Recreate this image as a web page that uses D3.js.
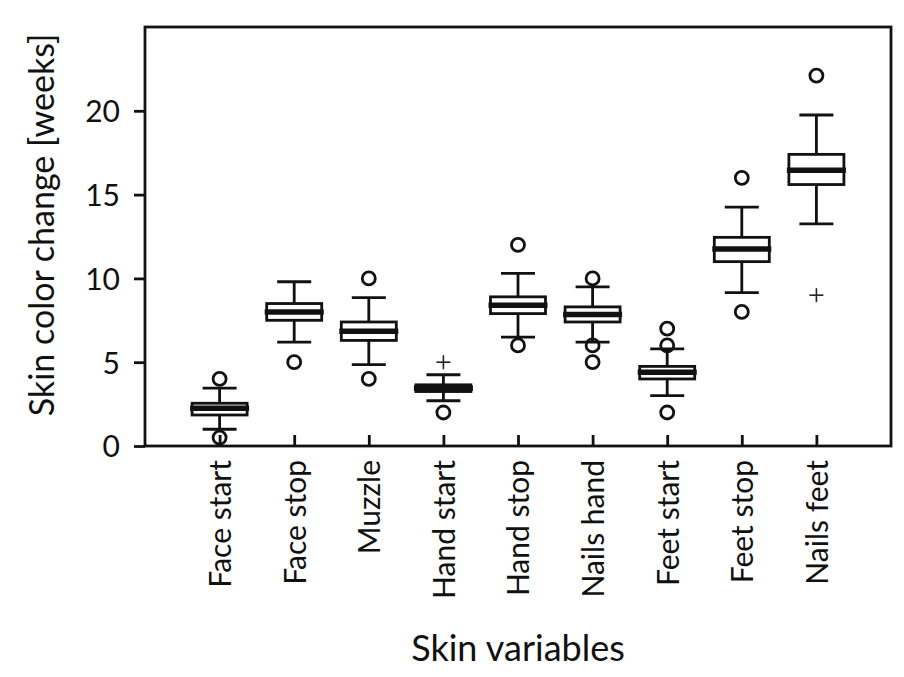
<!DOCTYPE html>
<html>
<head>
<meta charset="utf-8">
<script src="https://cdn.jsdelivr.net/npm/d3@7"></script>
<style>
    body { margin: 0; background: #fff; }
    svg text { font-family: Lato, "Open Sans", sans-serif; fill: #111; }
</style>
</head>
<body>
<script>
"use strict";

const categories = ["Face start", "Face stop", "Muzzle", "Hand start", "Hand stop",
                    "Nails hand", "Feet start", "Feet stop", "Nails feet"];
const whiskerLow  = [1.0, 6.2, 4.85, 2.7, 6.5, 6.2, 3.0, 9.15, 13.25];
const quartile1   = [1.85, 7.5, 6.3, 3.25, 7.9, 7.4, 4.0, 11.0, 15.6];
const medians     = [2.25, 8.0, 6.85, 3.45, 8.4, 7.85, 4.4, 11.75, 16.45];
const quartile3   = [2.55, 8.5, 7.4, 3.65, 8.9, 8.3, 4.75, 12.45, 17.4];
const whiskerHigh = [3.45, 9.8, 8.85, 4.25, 10.3, 9.5, 5.8, 14.25, 19.75];
const outliers    = [[4.0, 0.5], [5], [10, 4], [2], [12, 6], [10, 6, 5], [7, 6, 2], [16, 8], [22.1]];
const extremes    = [[], [], [], [5], [], [], [], [], [9]];
const yTicks = [0, 5, 10, 15, 20];

const measurements = {
    width: 904,
    height: 677,
    left: 145,
    right: 891,
    top: 27,
    bottom: 446
};
const lineW = 2.8;

const svg = d3.select("body").append("svg")
    .attr("width", measurements.width)
    .attr("height", measurements.height);

const x = d3.scalePoint()
    .domain(categories)
    .range([measurements.left, measurements.right])
    .padding(1);

const y = d3.scaleLinear()
    .domain([0, 25])
    .range([measurements.bottom, measurements.top]);

// axes
const xAxis = d3.axisBottom(x).tickSizeInner(-11).tickSizeOuter(0);
const gx = svg.append("g")
    .attr("transform", `translate(0,${measurements.bottom})`)
    .call(xAxis);
gx.select(".domain").remove();
gx.selectAll(".tick line").attr("stroke", "#111").attr("stroke-width", lineW);
gx.selectAll(".tick text")
    .attr("y", 0)
    .attr("x", -14)
    .attr("dy", "0.36em")
    .attr("transform", "rotate(-90)")
    .style("text-anchor", "end")
    .style("font-size", "30px")
    .style("font-family", "Lato");

const yAxis = d3.axisLeft(y).tickValues(yTicks).tickSize(11).tickPadding(14);
const gy = svg.append("g")
    .attr("transform", `translate(${measurements.left},0)`)
    .call(yAxis);
gy.select(".domain").remove();
gy.selectAll(".tick line").attr("stroke", "#111").attr("stroke-width", lineW);
gy.selectAll(".tick text")
    .attr("dy", "0.36em")
    .style("font-size", "30px")
    .style("font-family", "Lato");

// frame
svg.append("rect")
    .attr("x", measurements.left)
    .attr("y", measurements.top)
    .attr("width", measurements.right - measurements.left)
    .attr("height", measurements.bottom - measurements.top)
    .attr("fill", "none")
    .attr("stroke", "#111")
    .attr("stroke-width", lineW);

// boxes
const boxW = 55, capW = 34;
const rows = categories.map((c, i) => ({
    cat: c, lo: whiskerLow[i], q1: quartile1[i], med: medians[i],
    q3: quartile3[i], hi: whiskerHigh[i], out: outliers[i], ext: extremes[i]
}));

const g = svg.selectAll(".box").data(rows).enter().append("g")
    .attr("class", "box")
    .attr("transform", (d) => `translate(${x(d.cat)},0)`);

g.append("line")
    .attr("y1", (d) => y(d.lo)).attr("y2", (d) => y(d.q1))
    .attr("stroke", "#111").attr("stroke-width", lineW);
g.append("line")
    .attr("y1", (d) => y(d.q3)).attr("y2", (d) => y(d.hi))
    .attr("stroke", "#111").attr("stroke-width", lineW);
g.append("line")
    .attr("x1", -capW / 2).attr("x2", capW / 2)
    .attr("y1", (d) => y(d.lo)).attr("y2", (d) => y(d.lo))
    .attr("stroke", "#111").attr("stroke-width", lineW);
g.append("line")
    .attr("x1", -capW / 2).attr("x2", capW / 2)
    .attr("y1", (d) => y(d.hi)).attr("y2", (d) => y(d.hi))
    .attr("stroke", "#111").attr("stroke-width", lineW);
g.append("rect")
    .attr("x", -boxW / 2).attr("width", boxW)
    .attr("y", (d) => y(d.q3))
    .attr("height", (d) => y(d.q1) - y(d.q3))
    .attr("fill", "#fff").attr("stroke", "#111").attr("stroke-width", lineW);
g.append("line")
    .attr("x1", -boxW / 2 - 2).attr("x2", boxW / 2 + 2)
    .attr("y1", (d) => y(d.med)).attr("y2", (d) => y(d.med))
    .attr("stroke", "#111").attr("stroke-width", 5.5);

g.selectAll(".outlier").data((d) => d.out).enter().append("circle")
    .attr("class", "outlier")
    .attr("cy", (d) => y(d))
    .attr("r", 6.5)
    .attr("fill", "none").attr("stroke", "#111").attr("stroke-width", lineW);

const plus = g.selectAll(".extreme").data((d) => d.ext).enter().append("g")
    .attr("class", "extreme")
    .attr("transform", (d) => `translate(0,${y(d)})`);
plus.append("line").attr("x1", -7).attr("x2", 7)
    .attr("stroke", "#222").attr("stroke-width", 1.6);
plus.append("line").attr("y1", -7).attr("y2", 7)
    .attr("stroke", "#222").attr("stroke-width", 1.6);

// titles
svg.append("text")
    .attr("x", (measurements.left + measurements.right) / 2)
    .attr("y", 661)
    .style("text-anchor", "middle")
    .style("font-size", "36px")
    .text("Skin variables");

svg.append("text")
    .attr("transform", "translate(54,225)rotate(-90)")
    .style("text-anchor", "middle")
    .style("font-size", "34px")
    .text("Skin color change [weeks]");
</script>
</body>
</html>
